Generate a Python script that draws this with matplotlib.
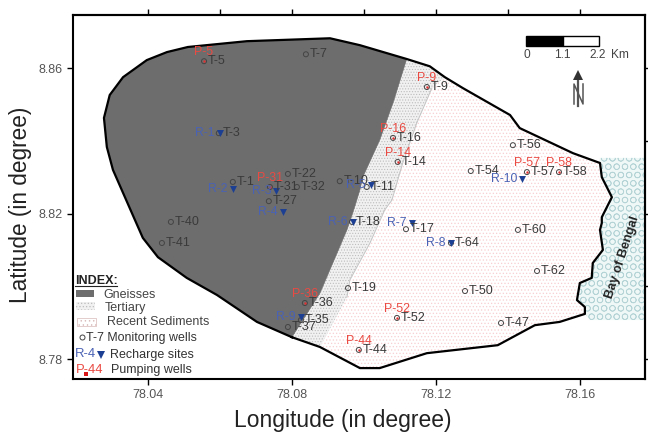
import matplotlib
matplotlib.use("Agg")
import matplotlib.pyplot as plt
from matplotlib.patches import Polygon, Rectangle

plt.rcParams['font.family'] = ['Liberation Sans', 'DejaVu Sans']
plt.rcParams['hatch.linewidth'] = 0.5

# --- DATA (lon / lat) ---
west_lon = [78.0800, 78.0703, 78.0592, 78.0508, 78.0428, 78.0386, 78.0358, 78.0303, 78.0286, 78.0278,
            78.0294, 78.0331, 78.0397, 78.0453, 78.0511, 78.0675, 78.0906, 78.0989, 78.1119]
west_lat = [8.7860, 8.7902, 8.7976, 8.8023, 8.8080, 8.8133, 8.8196, 8.8320, 8.8383, 8.8463,
            8.8526, 8.8575, 8.8622, 8.8644, 8.8658, 8.8674, 8.8682, 8.8663, 8.8625]
mid_lon = [78.1183, 78.1225]
mid_lat = [8.8605, 8.8575]
east_lon = [78.1275, 78.1406, 78.1433, 78.1581, 78.1656, 78.1661, 78.1689, 78.1661, 78.1661, 78.1656,
            78.1664, 78.1636, 78.1633, 78.1600, 78.1592, 78.1614, 78.1614, 78.1544, 78.1475, 78.1372,
            78.1175, 78.1044, 78.0989, 78.0878]
east_lat = [8.8545, 8.8471, 8.8435, 8.8366, 8.8339, 8.8300, 8.8245, 8.8190, 8.8174, 8.8155,
            8.8100, 8.8064, 8.8023, 8.8009, 8.7962, 8.7943, 8.7924, 8.7902, 8.7893, 8.7838,
            8.7816, 8.7775, 8.7775, 8.7833]
# contact gneiss / tertiary, north to south
gneiss_lon = [78.1081, 78.1044, 78.0997, 78.0989, 78.0969, 78.0953, 78.0878]
gneiss_lat = [8.8504, 8.8402, 8.8300, 8.8265, 8.8201, 8.8155, 8.7981]
# contact tertiary / recent sediments, north to south
tert_lon = [78.1189, 78.1147, 78.1108, 78.1078, 78.1058, 78.1017, 78.0961, 78.0953]
tert_lat = [8.8545, 8.8449, 8.8339, 8.8237, 8.8210, 8.8119, 8.8017, 8.7970]
bay_lon = [78.1656, 78.1781, 78.1781, 78.1628, 78.1614, 78.1572, 78.1628]
bay_lat = [8.8353, 8.8353, 8.7907, 8.7907, 8.7924, 8.7990, 8.8237]

t_names = ['T-5', 'T-7', 'T-3', 'T-1', 'T-22', 'T-31', 'T-32', 'T-27', 'T-10', 'T-11', 'T-40', 'T-41',
           'T-36', 'T-35', 'T-37', 'T-19', 'T-18', 'T-17', 'T-64', 'T-60', 'T-62', 'T-50', 'T-52', 'T-47',
           'T-44', 'T-9', 'T-16', 'T-14', 'T-54', 'T-56', 'T-57', 'T-58']
t_lon = [78.0556, 78.0839, 78.0597, 78.0636, 78.0789, 78.0739, 78.0814, 78.0736, 78.0933, 78.1008, 78.0464, 78.0439,
         78.0836, 78.0825, 78.0789, 78.0956, 78.0967, 78.1117, 78.1242, 78.1428, 78.1481, 78.1281, 78.1092, 78.1381,
         78.0986, 78.1175, 78.1081, 78.1094, 78.1297, 78.1414, 78.1453, 78.1542]
t_lat = [8.8619, 8.8638, 8.8421, 8.8287, 8.8309, 8.8273, 8.8273, 8.8234, 8.8289, 8.8273, 8.8177, 8.8119,
         8.7954, 8.7907, 8.7888, 8.7995, 8.8177, 8.8157, 8.8119, 8.8155, 8.8042, 8.7987, 8.7913, 8.7899,
         8.7825, 8.8548, 8.8408, 8.8342, 8.8317, 8.8388, 8.8314, 8.8314]

r_names = ['R-1', 'R-2', 'R-3', 'R-4', 'R-5', 'R-6', 'R-7', 'R-8', 'R-9', 'R-10']
r_lon = [78.0600, 78.0636, 78.0756, 78.0775, 78.1019, 78.0969, 78.1133, 78.1242, 78.0825, 78.1439]
r_lat = [8.8421, 8.8267, 8.8262, 8.8204, 8.8278, 8.8177, 8.8174, 8.8119, 8.7915, 8.8295]

p_names = ['P-5', 'P-9', 'P-16', 'P-14', 'P-31', 'P-57', 'P-58', 'P-36', 'P-52', 'P-44']
p_lon = [78.0556, 78.1175, 78.1081, 78.1094, 78.0739, 78.1453, 78.1542, 78.0836, 78.1092, 78.0986]
p_lat = [8.8619, 8.8548, 8.8408, 8.8342, 8.8273, 8.8314, 8.8314, 8.7954, 8.7913, 8.7825]

x_ticks = [78.04, 78.08, 78.12, 78.16]
y_ticks = [8.78, 8.82, 8.86]
x_ticks_top = [78.04, 78.06, 78.08, 78.10, 78.12, 78.14, 78.16]
y_ticks_right = [8.78, 8.80, 8.82, 8.84, 8.86]

# --- STYLE ---
W, H = 648, 432
GREY = '#6d6d6d'
BLUE = '#4a62b4'
RED = '#ea4a42'
DARK = '#3a3a3a'
NAVY = '#1c3f94'

fig = plt.figure(figsize=(W / 100, H / 100), dpi=100)
ax = fig.add_axes([73 / W, 1 - 379 / H, 572 / W, 364 / H])
ax.set_xlim(78.0192, 78.1781)
ax.set_ylim(8.7745, 8.8746)

def fx(px):
    return px / W

def fy(py):
    return 1 - py / H

# --- AREAS ---
ax.add_patch(Polygon(list(zip(bay_lon, bay_lat)), closed=True, facecolor='#f0f7f7', edgecolor='#b4d4d6',
                     hatch='OO', linewidth=0, zorder=1))

out_lon = west_lon + mid_lon + east_lon + west_lon[:1]
out_lat = west_lat + mid_lat + east_lat + west_lat[:1]
ax.add_patch(Polygon(list(zip(out_lon, out_lat)), closed=True, facecolor='white', edgecolor='#f8cfd2',
                     hatch='.....', linewidth=0, zorder=2))

t_poly_lon = west_lon + mid_lon + tert_lon + east_lon[-1:]
t_poly_lat = west_lat + mid_lat + tert_lat + east_lat[-1:]
ax.add_patch(Polygon(list(zip(t_poly_lon, t_poly_lat)), closed=True, facecolor='#f1f1f1', edgecolor='#bdbdbd',
                     hatch='......', linewidth=0, zorder=3))
ax.plot(tert_lon, tert_lat, color='#c4c4c4', lw=0.7, zorder=3.5)

g_poly_lon = west_lon + gneiss_lon
g_poly_lat = west_lat + gneiss_lat
ax.add_patch(Polygon(list(zip(g_poly_lon, g_poly_lat)), closed=True, facecolor=GREY, edgecolor=GREY,
                     linewidth=0.4, zorder=4))

ax.plot(out_lon, out_lat, color='black', lw=1.6, zorder=5, solid_joinstyle='round')

# --- WELLS ---
ax.scatter(t_lon, t_lat, s=13, facecolors='none', edgecolors='#444444', linewidths=0.7, zorder=6)
for name, lon, lat in zip(t_names, t_lon, t_lat):
    ax.annotate(name, (lon, lat), xytext=(2.8, 0), textcoords='offset points', ha='left', va='center',
                fontsize=9, color=DARK, zorder=7)

ax.scatter(p_lon, p_lat, s=3, color='#e03030', linewidths=0, zorder=6)
for name, lon, lat in zip(p_names, p_lon, p_lat):
    ax.annotate(name, (lon, lat), xytext=(0, 6.5), textcoords='offset points', ha='center', va='center',
                fontsize=8.9, color=RED, zorder=8)

ax.scatter(r_lon, r_lat, s=25, marker='v', color=NAVY, linewidths=0, zorder=6)
for name, lon, lat in zip(r_names, r_lon, r_lat):
    ax.annotate(name, (lon, lat), xytext=(-3.6, 0), textcoords='offset points', ha='right', va='center',
                fontsize=8.8, color=BLUE, zorder=8)

ax.text(78.1719, 8.8080, 'Bay of Bengal', rotation=72, ha='center', va='center', fontsize=9.3,
        fontweight='bold', color='#222222', zorder=8)

# --- AXES ---
ax.set_xticks(x_ticks)
ax.set_xticklabels([f'{v:.2f}' for v in x_ticks])
ax.set_yticks(y_ticks)
ax.set_yticklabels([f'{v:.2f}' for v in y_ticks], rotation=0)
ax.tick_params(axis='both', length=4.5, width=1, labelsize=9, labelcolor='#555555', pad=3)

top = ax.secondary_xaxis('top')
top.set_xticks(x_ticks_top)
top.set_xticklabels([])
top.tick_params(length=4.5, width=1)
right = ax.secondary_yaxis('right')
right.set_yticks(y_ticks_right)
right.set_yticklabels([])
right.tick_params(length=4.5, width=1)
for s in ax.spines.values():
    s.set_linewidth(1.5)
top.spines['top'].set_linewidth(1.5)
right.spines['right'].set_linewidth(1.5)

fig.text(fx(343), fy(427), 'Longitude (in degree)', ha='center', va='baseline', fontsize=16.5, color='#222222')
fig.text(fx(27), fy(205), 'Latitude (in degree)', ha='center', va='baseline', fontsize=16.3, rotation=90,
         rotation_mode='anchor', color='#222222')

# --- SCALE BAR ---
fig.add_artist(Rectangle((fx(526), fy(46)), 37 / W, 10 / H, facecolor='black', edgecolor='black', lw=1))
fig.add_artist(Rectangle((fx(563), fy(46)), 36 / W, 10 / H, facecolor='white', edgecolor='black', lw=1))
for px, s in [(527, '0'), (562, '1.1'), (598, '2.2'), (620, 'Km')]:
    fig.text(fx(px), fy(55), s, ha='center', va='center', fontsize=8.6, color='#444444')

# north arrow
fig.add_artist(plt.Line2D([fx(578), fx(578)], [fy(80), fy(106)], color='#555555', lw=1.6))
fig.add_artist(plt.Line2D([fx(578)], [fy(75)], marker='^', ms=7, mfc='#333333', mec='#333333', mew=0))
fig.add_artist(plt.Line2D([fx(574), fx(574), fx(583), fx(583)], [fy(104), fy(84), fy(104), fy(84)],
                          color='#555555', lw=1.1))

# --- INDEX ---
fig.text(fx(75), fy(281), 'INDEX:', ha='left', va='center', fontsize=9, fontweight='bold', color='#222222')
fig.add_artist(plt.Line2D([fx(75), fx(117)], [fy(286), fy(286)], color='#222222', lw=0.8))
fig.add_artist(Rectangle((fx(76), fy(297)), 18 / W, 7 / H, facecolor=GREY, edgecolor=GREY, lw=0))
fig.add_artist(Rectangle((fx(76), fy(310)), 19 / W, 8 / H, facecolor='#f1f1f1', edgecolor='#bdbdbd', hatch='.....', lw=0))
fig.add_artist(Rectangle((fx(77), fy(326)), 19 / W, 8 / H, facecolor='white', edgecolor='#d8b8b8', hatch='....', lw=0.5))
fig.text(fx(103), fy(295), 'Gneisses', ha='left', va='center', fontsize=9, color='#444444')
fig.text(fx(105), fy(308), 'Tertiary', ha='left', va='center', fontsize=9, color='#444444')
fig.text(fx(107), fy(322), 'Recent Sediments', ha='left', va='center', fontsize=9, color='#444444')
fig.add_artist(plt.Line2D([fx(82)], [fy(337)], marker='o', ms=3.6, mfc='none', mec='#444444', mew=0.7))
fig.text(fx(86), fy(338), 'T-7 Monitoring wells', ha='left', va='center', fontsize=8.9, color='#333333')
fig.text(fx(75), fy(354), 'R-4', ha='left', va='center', fontsize=9.4, color=BLUE)
fig.add_artist(plt.Line2D([fx(101)], [fy(355)], marker='v', ms=5.4, mfc=NAVY, mec=NAVY, mew=0))
fig.text(fx(110), fy(355), 'Recharge sites', ha='left', va='center', fontsize=9, color='#333333')
fig.text(fx(76), fy(370), 'P-44', ha='left', va='center', fontsize=9.4, color=RED)
fig.add_artist(plt.Line2D([fx(86)], [fy(374)], marker='s', ms=2.8, mfc='#d81818', mec='#d81818', mew=0))
fig.text(fx(111), fy(370), 'Pumping wells', ha='left', va='center', fontsize=9, color='#333333')

plt.savefig("out.png", dpi=100)
